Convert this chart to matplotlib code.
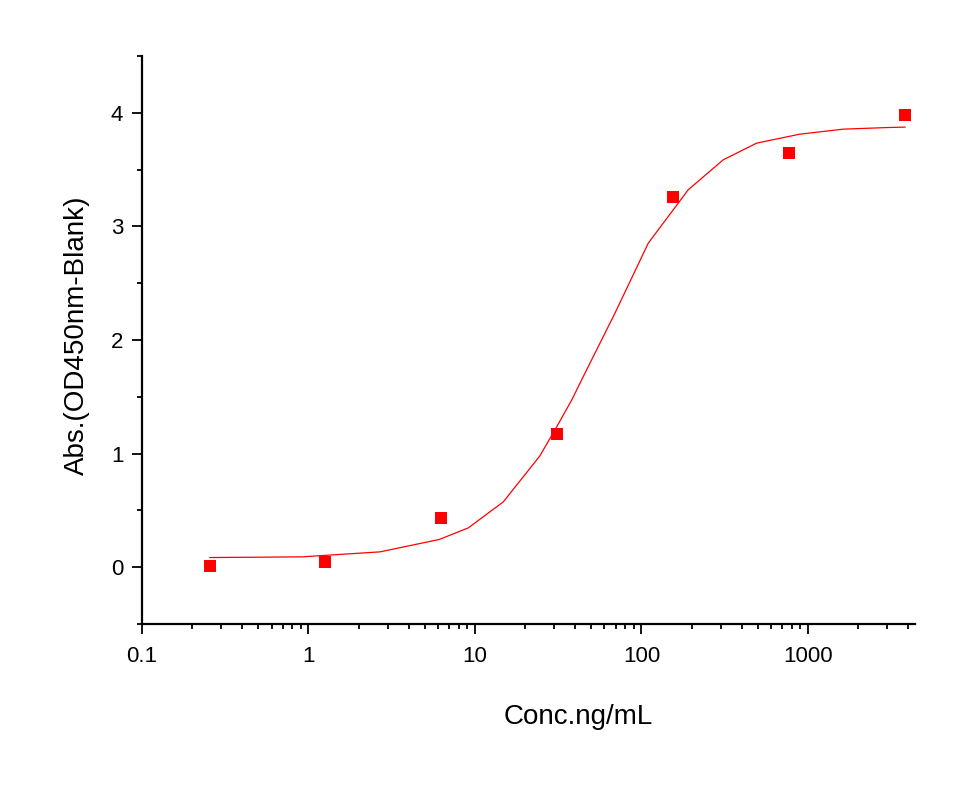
import matplotlib
matplotlib.use("Agg")
import matplotlib.pyplot as plt
from matplotlib.ticker import LogLocator, MultipleLocator, FixedLocator, FixedFormatter

plt.rcParams['font.family'] = ['Liberation Sans', 'DejaVu Sans']

# measured points (dilution series)
conc = [0.256, 1.265, 6.29, 31.3, 155.7, 775, 3830]
absorb = [0.01, 0.05, 0.43, 1.17, 3.26, 3.65, 3.98]

# fitted curve
fit_x = [0.256, 0.91, 2.69, 6.1, 9.12, 14.8, 24.5, 31.0, 38.4, 43.7, 69.3,
         109.9, 191, 310, 492, 895, 1630, 2970, 3830]
fit_y = [0.085, 0.091, 0.135, 0.244, 0.346, 0.575, 0.978, 1.236, 1.480, 1.648, 2.235,
         2.852, 3.322, 3.586, 3.733, 3.812, 3.856, 3.870, 3.874]

x_ticks = [0.1, 1, 10, 100, 1000]
x_ticklabels = ["0.1", "1", "10", "100", "1000"]
y_ticks = [0, 1, 2, 3, 4]
y_ticklabels = ["0", "1", "2", "3", "4"]

fig = plt.figure(figsize=(9.72, 7.90), dpi=100)
ax = fig.add_axes([142/972, 1-624/790, (915-142)/972, (624-56)/790])

ax.plot(fit_x, fit_y, color='red', lw=0.9, zorder=2)
ax.plot(conc, absorb, linestyle='none', marker='s', markersize=8,
        color='red', markeredgewidth=0, zorder=3)

ax.set_xscale('log')
ax.set_xlim(0.1, 4400)
ax.set_ylim(-0.5, 4.5)

ax.xaxis.set_major_locator(FixedLocator(x_ticks))
ax.xaxis.set_major_formatter(FixedFormatter(x_ticklabels))
ax.xaxis.set_minor_locator(LogLocator(base=10, subs=range(2, 10), numticks=20))
ax.yaxis.set_major_locator(FixedLocator(y_ticks))
ax.yaxis.set_major_formatter(FixedFormatter(y_ticklabels))
ax.yaxis.set_minor_locator(MultipleLocator(0.5))

for s in ['top', 'right']:
    ax.spines[s].set_visible(False)
for s in ['left', 'bottom']:
    ax.spines[s].set_linewidth(1.6)

ax.tick_params(which='major', direction='out', length=7.5, width=1.3,
               labelsize=16, pad=6)
ax.tick_params(which='minor', direction='out', length=3.8, width=1.3)
ax.tick_params(axis='x', which='major', pad=8)

ax.set_xlabel('Conc.ng/mL', fontsize=20, labelpad=27, x=(578-142)/773)
ax.set_ylabel('Abs.(OD450nm-Blank)', fontsize=20, labelpad=15, y=(790-335-166)/(624-56))

fig.savefig('out.png', dpi=100)
